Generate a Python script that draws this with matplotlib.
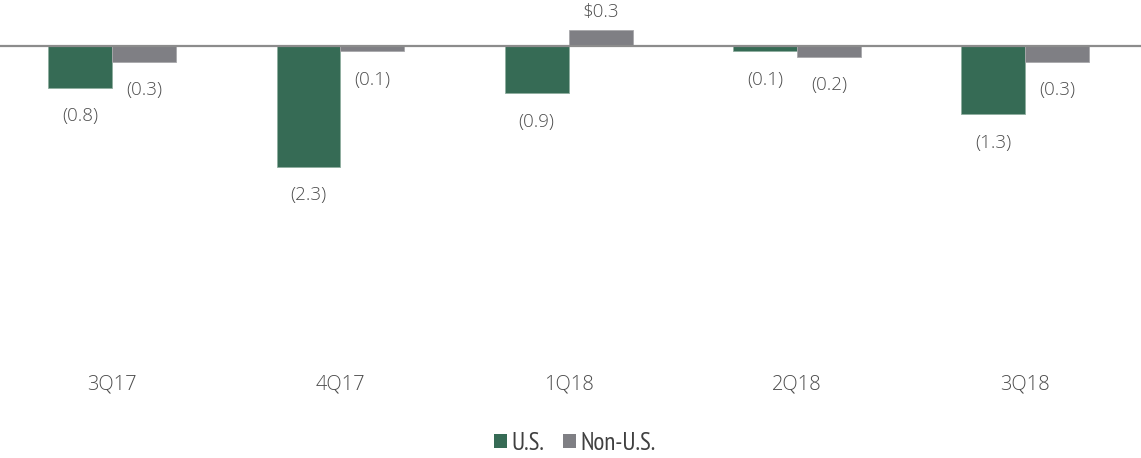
import matplotlib
matplotlib.use("Agg")
import matplotlib.pyplot as plt
import numpy as np
from matplotlib.patches import Patch
from matplotlib import font_manager

quarters = ["3Q17", "4Q17", "1Q18", "2Q18", "3Q18"]
us_values = [-0.8, -2.3, -0.9, -0.1, -1.3]
non_us_values = [-0.3, -0.1, 0.3, -0.2, -0.3]
series_names = ["U.S.", "Non-U.S."]

green = "#366B55"
gray = "#7F7F84"
text_color = "#4d4d4d"

plt.rcParams["font.family"] = ["Open Sans", "DejaVu Sans"]

installed = {f.name for f in font_manager.fontManager.ttflist}
legend_font = next((n for n in ["PT Sans Narrow", "Roboto Condensed", "Fira Sans Condensed",
                                "Archivo Narrow", "Open Sans Condensed", "Open Sans"]
                    if n in installed), "DejaVu Sans")

fig = plt.figure(figsize=(11.41, 4.58), dpi=100)
ax = fig.add_axes([0, 93 / 458, 1, 365 / 458])

x = np.arange(len(quarters))
w = 0.28
bars_us = ax.bar(x - w / 2, us_values, w, color=green, edgecolor="#8fae9f", linewidth=0.6, zorder=2)
bars_non = ax.bar(x + w / 2, non_us_values, w, color=gray, edgecolor="#a8a8ab", linewidth=0.6, zorder=2)

ax.axhline(0, color="#8c8c8c", linewidth=1.6, zorder=3)


def fmt(v):
    return f"${v:.1f}" if v >= 0 else f"({abs(v):.1f})"


for bars, vals in ((bars_us, us_values), (bars_non, non_us_values)):
    for b, v in zip(bars, vals):
        cx = b.get_x() + b.get_width() / 2
        off = 13 if v >= 0 else -20.5
        ax.annotate(fmt(v), xy=(cx, v), xytext=(0, off), textcoords="offset points",
                    ha="center", va="center", fontsize=13.5, color=text_color,
                    fontweight="light")

ax.set_xlim(-0.492, len(quarters) - 0.492)
ax.set_ylim(-(365 - 46) / 52.5, 46 / 52.5)
ax.set_xticks(x)
ax.set_xticklabels(quarters, fontsize=14.5, color=text_color, fontweight="light")
ax.tick_params(axis="x", length=0, pad=7)
ax.set_yticks([])
for s in ax.spines.values():
    s.set_visible(False)

handles = [Patch(facecolor=green, label=series_names[0]),
           Patch(facecolor=gray, label=series_names[1])]
fig.legend(handles=handles, loc="center", bbox_to_anchor=(575 / 1141, 1 - 443 / 458),
           ncol=2, frameon=False, handlelength=0.5, handleheight=0.5,
           handletextpad=0.2, columnspacing=0.75, labelcolor="#404040",
           prop={"family": legend_font, "size": 18})

fig.savefig("out.png", dpi=100)
